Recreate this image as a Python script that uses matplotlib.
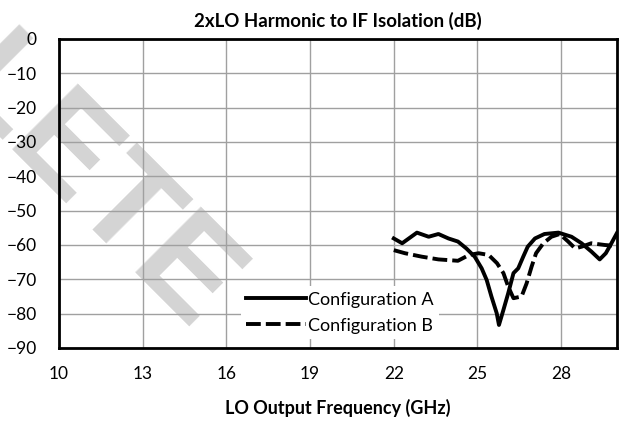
import matplotlib
matplotlib.use('Agg')
import matplotlib.pyplot as plt

plt.rcParams['font.family'] = ['Lato', 'DejaVu Sans']

# Data
freq_a = [22.0, 22.3, 22.83, 23.25, 23.6, 23.96, 24.3, 24.6, 24.9, 25.15, 25.33, 25.5,
          25.69, 25.77, 25.93, 26.1, 26.29, 26.46, 26.64, 26.8, 27.06, 27.4, 27.9,
          28.37, 28.73, 29.08, 29.38, 29.6, 29.8, 30.0]
iso_a = [-58.1, -59.5, -56.4, -57.6, -56.8, -58.1, -59.0, -61.0, -63.4, -66.8, -70.2, -75.0,
         -79.9, -83.3, -78.9, -74.1, -68.2, -66.8, -63.4, -60.5, -58.1, -56.8, -56.4,
         -57.6, -59.5, -61.9, -64.2, -62.4, -59.5, -56.5]

freq_b = [22.0, 22.4, 23.0, 23.6, 24.3, 24.7, 25.04, 25.4, 25.7, 25.93, 26.1, 26.29,
          26.58, 26.76, 26.94, 27.1, 27.36, 27.65, 27.95, 28.25, 28.5, 28.73, 29.08,
          29.56, 30.0]
iso_b = [-61.5, -62.4, -63.4, -64.2, -64.6, -62.9, -62.4, -62.9, -65.3, -68.2, -72.1, -75.5,
         -75.0, -71.2, -66.3, -62.4, -59.5, -57.6, -56.8, -59.0, -61.0, -60.5, -59.5,
         -60.0, -60.3]

xticks = [10, 13, 16, 19, 22, 25, 28]
yticks = list(range(-90, 1, 10))

fig = plt.figure(figsize=(6.26, 4.22), dpi=100)
ax = fig.add_axes([0.0942, 0.1754, 0.8914, 0.7322])
ax.patch.set_alpha(0)
ax.set_zorder(1)

# watermark behind the axes, only the tail of the word is on the page
fig.text(0.305, 0.2085, 'OBSOLETE', fontsize=98, fontweight='bold', color='#d4d4d4',
         rotation=-45, rotation_mode='anchor', ha='right', va='baseline',
         zorder=0, family='Liberation Sans')

ax.plot(freq_a, iso_a, color='black', linewidth=2.8, label='Configuration A', zorder=3)
ax.plot(freq_b, iso_b, color='black', linewidth=2.8, linestyle=(0, (3.8, 1.3)),
        label='Configuration B', zorder=3)

ax.set_xlim(10, 30)
ax.set_ylim(-90, 0)
ax.set_xticks(xticks)
ax.set_yticks(yticks)
ax.grid(True, color='#a0a0a0', linewidth=1)
ax.set_axisbelow(True)
ax.tick_params(length=0, labelsize=12.5)
ax.tick_params(axis='x', pad=13)
ax.tick_params(axis='y', pad=16)
for s in ax.spines.values():
    s.set_linewidth(2)
    s.set_color('black')

ax.set_title('2xLO Harmonic to IF Isolation (dB)', fontsize=13.4, fontweight='bold', pad=9)
ax.set_xlabel('LO Output Frequency (GHz)', fontsize=13, fontweight='bold', labelpad=12)

leg = ax.legend(loc='lower left', bbox_to_anchor=(0.31, 0.0), fontsize=13,
                frameon=True, fancybox=False, edgecolor='none', framealpha=1,
                handlelength=3.3, handletextpad=0.12, borderpad=0.3, labelspacing=0.55)
leg.set_zorder(4)

fig.savefig('out.png', dpi=100)
